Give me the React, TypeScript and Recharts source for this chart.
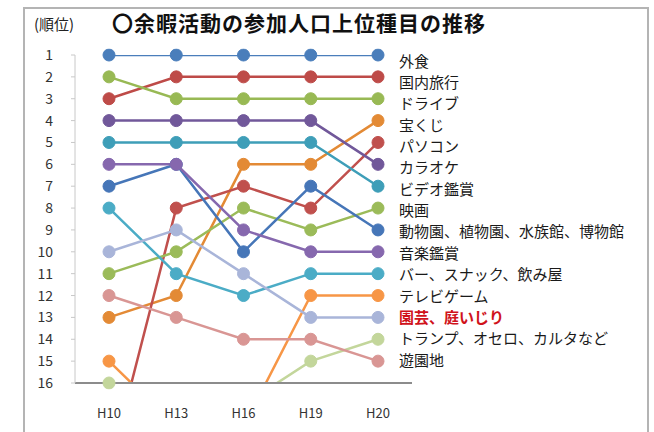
import React from "react";
import { LineChart, Line, XAxis, YAxis, LabelList } from "recharts";

const categories = ["H10", "H13", "H16", "H19", "H20"];

const seriesNames = [
  "外食",
  "国内旅行",
  "ドライブ",
  "宝くじ",
  "パソコン",
  "カラオケ",
  "ビデオ鑑賞",
  "映画",
  "動物園、植物園、水族館、博物館",
  "音楽鑑賞",
  "バー、スナック、飲み屋",
  "テレビゲーム",
  "園芸、庭いじり",
  "トランプ、オセロ、カルタなど",
  "遊園地",
];

// rank per survey year (H10, H13, H16, H19, H20); values > 16 fall below the axis
const seriesRanks = [
  [1, 1, 1, 1, 1],
  [3, 2, 2, 2, 2],
  [2, 3, 3, 3, 3],
  [13, 12, 6, 6, 4],
  [20, 8, 7, 8, 5],
  [4, 4, 4, 4, 6],
  [5, 5, 5, 5, 7],
  [11, 10, 8, 9, 8],
  [7, 6, 10, 7, 9],
  [6, 6, 9, 10, 10],
  [8, 11, 12, 11, 11],
  [15, 18, 18, 12, 12],
  [10, 9, 11, 13, 13],
  [16, 17, 17, 15, 14],
  [12, 13, 14, 14, 15],
];

const rankTicks = [1, 2, 3, 4, 5, 6, 7, 8, 9, 10, 11, 12, 13, 14, 15, 16];

const highlighted = "園芸、庭いじり";

const seriesColors = [
  "#4A7EBB",
  "#BE4B48",
  "#98B954",
  "#E38A35",
  "#C0504D",
  "#71589A",
  "#3E9EB8",
  "#9BBB59",
  "#4676B8",
  "#8668AE",
  "#4BACC6",
  "#F79646",
  "#A9B5D9",
  "#C3D69B",
  "#D99694",
];

const chartData = categories.map((name, i) => {
  const row: Record<string, string | number> = { name };
  seriesRanks.forEach((r, s) => {
    row["s" + s] = r[i];
  });
  return row;
});

const font = '"Noto Sans CJK JP", "Noto Sans", sans-serif';

const makeEndLabel = (label: string) => (props: any) => {
  const { x, y, index, value } = props;
  if (index !== categories.length - 1) return null;
  const hot = label === highlighted;
  return (
    <text
      x={x + 21}
      y={y + 5 - 0.5 * (value - 1)}
      dominantBaseline="central"
      fontSize={15}
      fontFamily={font}
      fontWeight={hot ? 700 : 400}
      fill={hot ? "#D0121B" : "#1a1a1a"}
    >
      {label}
    </text>
  );
};

export default function App() {
  return (
    <div
      style={{
        position: "fixed",
        left: 0,
        top: 0,
        width: 654,
        height: 432,
        overflow: "hidden",
        background: "#fff",
        fontFamily: font,
      }}
    >
      <div
        style={{
          position: "absolute",
          left: 23,
          top: 7,
          width: 622,
          height: 460,
          border: "2px solid #b4b4b4",
        }}
      />
      <div style={{ position: "absolute", left: 34, top: 16, fontSize: 15, lineHeight: "15px", color: "#222" }}>
        (順位)
      </div>
      <div
        style={{
          position: "absolute",
          left: 112,
          top: 12,
          fontSize: 21,
          lineHeight: "21px",
          fontWeight: 700,
          letterSpacing: 1,
          color: "#111",
          whiteSpace: "nowrap",
        }}
      >
        〇余暇活動の参加人口上位種目の推移
      </div>
      <div style={{ position: "absolute", left: 0, top: 0 }}>
        <LineChart
          width={654}
          height={432}
          data={chartData}
          margin={{ top: 55, right: 242, bottom: 19, left: 20 }}
        >
          <XAxis
            dataKey="name"
            height={30}
            padding={{ left: 34, right: 34 }}
            tickLine={false}
            tickSize={0}
            tickMargin={26}
            axisLine={{ stroke: "#8c8c8c", strokeWidth: 2 }}
            tick={{ fill: "#333", fontSize: 13, fontFamily: font }}
          />
          <YAxis
            width={55}
            reversed
            type="number"
            domain={[1, 16]}
            allowDataOverflow
            ticks={rankTicks}
            interval={0}
            tickSize={4}
            tickMargin={18}
            axisLine={{ stroke: "#c8c8c8" }}
            tickLine={{ stroke: "#c8c8c8" }}
            tick={{ fill: "#333", fontSize: 14, fontFamily: font }}
          />
          {seriesNames.map((label, s) => (
            <Line
              key={label}
              type="linear"
              dataKey={"s" + s}
              stroke={seriesColors[s]}
              strokeWidth={2.5}
              dot={{ r: 6, fill: seriesColors[s], stroke: seriesColors[s], strokeWidth: 1, clipDot: false }}
              activeDot={false}
              isAnimationActive={false}
            >
              <LabelList dataKey={"s" + s} content={makeEndLabel(label)} />
            </Line>
          ))}
        </LineChart>
      </div>
    </div>
  );
}
